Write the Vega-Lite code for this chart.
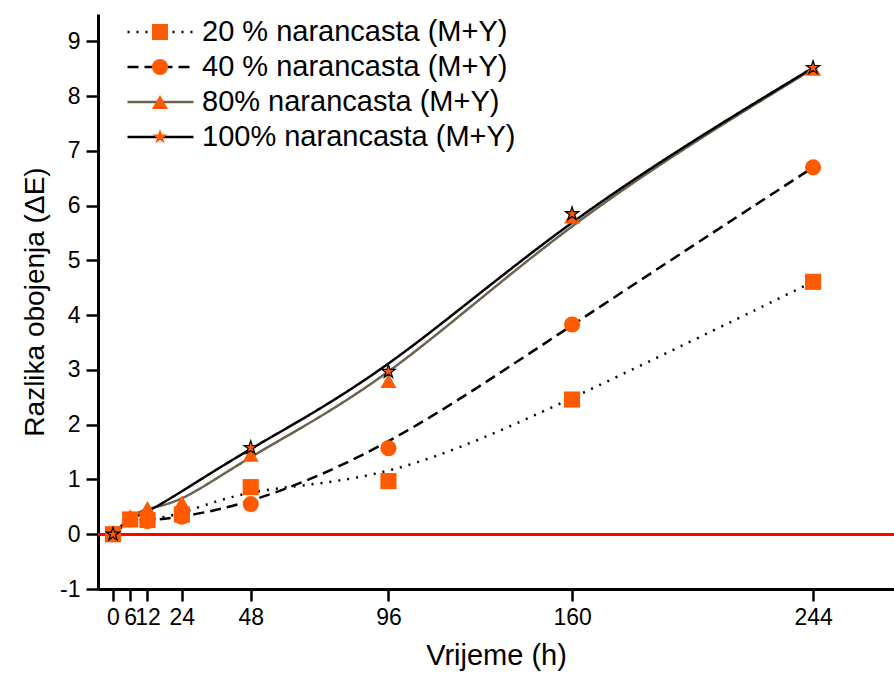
{
  "$schema": "https://vega.github.io/schema/vega-lite/v6.json",
  "width": 796,
  "height": 575,
  "autosize": "none",
  "padding": {"left": 98, "top": 14, "right": 0, "bottom": 88},
  "background": "white",
  "config": {
    "view": {"stroke": null},
    "font": "Liberation Sans",
    "axis": {"grid": false, "domainColor": "black", "tickColor": "black", "labelColor": "black", "titleColor": "black", "labelFont": "Liberation Sans", "titleFont": "Liberation Sans", "titleFontWeight": "normal"}
  },
  "data": {
    "values": [
      {"series": "20 % narancasta (M+Y)", "h": 0, "dE": 0},
      {"series": "20 % narancasta (M+Y)", "h": 6, "dE": 0.27},
      {"series": "20 % narancasta (M+Y)", "h": 12, "dE": 0.26},
      {"series": "20 % narancasta (M+Y)", "h": 24, "dE": 0.36},
      {"series": "20 % narancasta (M+Y)", "h": 48, "dE": 0.86},
      {"series": "20 % narancasta (M+Y)", "h": 96, "dE": 0.97},
      {"series": "20 % narancasta (M+Y)", "h": 160, "dE": 2.46},
      {"series": "20 % narancasta (M+Y)", "h": 244, "dE": 4.61},
      {"series": "40 % narancasta (M+Y)", "h": 0, "dE": 0},
      {"series": "40 % narancasta (M+Y)", "h": 6, "dE": 0.27},
      {"series": "40 % narancasta (M+Y)", "h": 12, "dE": 0.24},
      {"series": "40 % narancasta (M+Y)", "h": 24, "dE": 0.32},
      {"series": "40 % narancasta (M+Y)", "h": 48, "dE": 0.55},
      {"series": "40 % narancasta (M+Y)", "h": 96, "dE": 1.57},
      {"series": "40 % narancasta (M+Y)", "h": 160, "dE": 3.83},
      {"series": "40 % narancasta (M+Y)", "h": 244, "dE": 6.7},
      {"series": "80% narancasta (M+Y)", "h": 0, "dE": 0},
      {"series": "80% narancasta (M+Y)", "h": 6, "dE": 0.33},
      {"series": "80% narancasta (M+Y)", "h": 12, "dE": 0.48},
      {"series": "80% narancasta (M+Y)", "h": 24, "dE": 0.58},
      {"series": "80% narancasta (M+Y)", "h": 48, "dE": 1.45},
      {"series": "80% narancasta (M+Y)", "h": 96, "dE": 2.8},
      {"series": "80% narancasta (M+Y)", "h": 160, "dE": 5.8},
      {"series": "80% narancasta (M+Y)", "h": 244, "dE": 8.5},
      {"series": "100% narancasta (M+Y)", "h": 0, "dE": 0},
      {"series": "100% narancasta (M+Y)", "h": 6, "dE": 0.3},
      {"series": "100% narancasta (M+Y)", "h": 12, "dE": 0.4},
      {"series": "100% narancasta (M+Y)", "h": 24, "dE": 0.78},
      {"series": "100% narancasta (M+Y)", "h": 48, "dE": 1.58},
      {"series": "100% narancasta (M+Y)", "h": 96, "dE": 2.97},
      {"series": "100% narancasta (M+Y)", "h": 160, "dE": 5.85},
      {"series": "100% narancasta (M+Y)", "h": 244, "dE": 8.52}
    ]
  },
  "layer": [
    {
      "mark": {"type": "rule", "color": "#ff0000", "strokeWidth": 2},
      "encoding": {
        "y": {"datum": 0, "type": "quantitative"}
      }
    },
    {
      "mark": {"type": "line", "interpolate": "basis", "strokeWidth": 2.5},
      "encoding": {
        "x": {"field": "h", "type": "quantitative", "scale": {"domain": [-5.23, 272.2], "nice": false, "zero": false},
              "axis": {"values": [0, 6, 12, 24, 48, 96, 160, 244], "labelFontSize": 23, "labelPadding": 5, "labelFlush": false, "labelOverlap": false, "tickSize": 12, "tickWidth": 2.5, "domainWidth": 3, "title": "Vrijeme (h)", "titleFontSize": 29, "titlePadding": 12}},
        "y": {"field": "dE", "type": "quantitative", "scale": {"domain": [-1, 9.5], "nice": false, "zero": false},
              "axis": {"values": [-1, -0.5, 0, 0.5, 1, 1.5, 2, 2.5, 3, 3.5, 4, 4.5, 5, 5.5, 6, 6.5, 7, 7.5, 8, 8.5, 9],
                       "labelExpr": "datum.value % 1 === 0 ? '' + datum.value : ''",
                       "labelFontSize": 23, "labelPadding": 6, "labelOverlap": false,
                       "tickSize": {"condition": {"test": "datum.value % 1 === 0", "value": 12}, "value": 7},
                       "tickWidth": 2.5, "domainWidth": 3, "title": "Razlika obojenja (\u0394E)", "titleFontSize": 28, "titlePadding": 10}},
        "stroke": {"field": "series", "type": "nominal",
                   "sort": ["20 % narancasta (M+Y)", "40 % narancasta (M+Y)", "80% narancasta (M+Y)", "100% narancasta (M+Y)"],
                   "scale": {"range": ["#000000", "#000000", "#6b6350", "#000000"]},
                   "legend": null},
        "strokeDash": {"field": "series", "type": "nominal",
                   "sort": ["20 % narancasta (M+Y)", "40 % narancasta (M+Y)", "80% narancasta (M+Y)", "100% narancasta (M+Y)"],
                   "scale": {"range": [[2, 7], [11, 6], [1, 0], [1, 0]]},
                   "legend": {"orient": "none", "legendX": 28, "legendY": 1, "title": null, "symbolType": "stroke", "symbolSize": 4356, "symbolStrokeWidth": 2.5, "clipHeight": 34, "rowPadding": 1, "padding": 0, "labelOffset": 7, "labelFontSize": 29, "labelFont": "Liberation Sans", "labelColor": "black", "labelLimit": 600,
                              "encode": {"symbols": {"update": {"stroke": {"signal": "datum.value === '80% narancasta (M+Y)' ? '#6b6350' : '#000000'"}}}}}}
      }
    },
    {
      "transform": [{"filter": "datum.series !== '100% narancasta (M+Y)'"}],
      "mark": {"type": "point", "filled": true, "color": "#ff5a00", "opacity": 1, "size": 260},
      "encoding": {
        "x": {"field": "h", "type": "quantitative"},
        "y": {"field": "dE", "type": "quantitative"},
        "shape": {"field": "series", "type": "nominal",
                  "scale": {"domain": ["20 % narancasta (M+Y)", "40 % narancasta (M+Y)", "80% narancasta (M+Y)", "100% narancasta (M+Y)"],
                            "range": ["square", "circle", "triangle-up", "M0,-1L0.2245,-0.309L0.951,-0.309L0.363,0.118L0.588,0.809L0,0.382L-0.588,0.809L-0.363,0.118L-0.951,-0.309L-0.2245,-0.309Z"]},
                  "legend": {"orient": "none", "legendX": 51, "legendY": 1, "title": null, "symbolSize": 260, "symbolFillColor": "#ff5a00", "symbolStrokeWidth": 0, "symbolOpacity": 1, "clipHeight": 34, "rowPadding": 1, "padding": 0, "labelExpr": "''", "labelFontSize": 22}}
      }
    },
    {
      "transform": [{"filter": "datum.series === '100% narancasta (M+Y)' && (datum.h === 0 || datum.h >= 48)"}],
      "mark": {"type": "point", "filled": true, "fill": "#ff5a00", "stroke": "#000000", "strokeWidth": 1.2, "opacity": 1, "size": 200,
               "shape": "M0,-1L0.2245,-0.309L0.951,-0.309L0.363,0.118L0.588,0.809L0,0.382L-0.588,0.809L-0.363,0.118L-0.951,-0.309L-0.2245,-0.309Z"},
      "encoding": {
        "x": {"field": "h", "type": "quantitative"},
        "y": {"field": "dE", "type": "quantitative"}
      }
    }
  ]
}
